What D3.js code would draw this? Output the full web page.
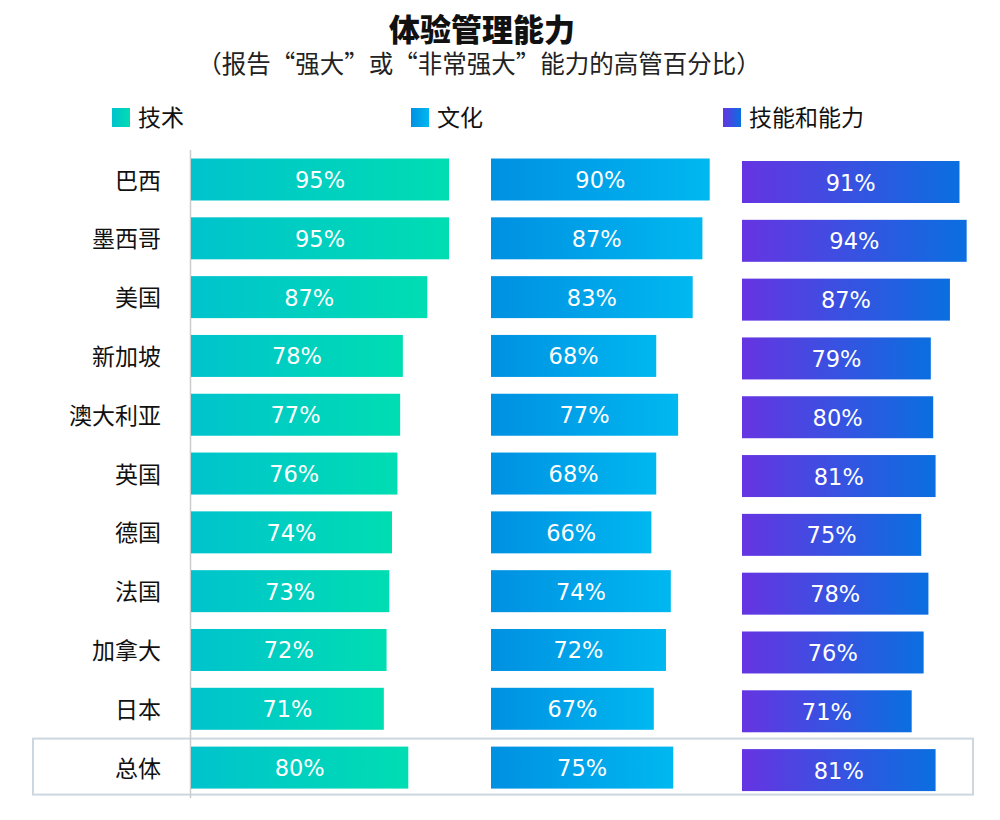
<!DOCTYPE html>
<html><head><meta charset="utf-8">
<script src="https://cdn.jsdelivr.net/npm/d3@7"></script>
<style>body{margin:0;background:#fff}svg{display:block}</style>
</head><body>
<script>
const categories = ["巴西","墨西哥","美国","新加坡","澳大利亚","英国","德国","法国","加拿大","日本","总体"];
const seriesNames = ["技术","文化","技能和能力"];
const tech    = [95,95,87,78,77,76,74,73,72,71,80];
const culture = [90,87,83,68,77,68,66,74,72,67,75];
const skills  = [91,94,87,79,80,81,75,78,76,71,81];
const title = "体验管理能力";
const subtitle = "（报告“强大”或“非常强大”能力的高管百分比）";

const W=1000,H=820;
const svg=d3.select("body").append("svg").attr("width",W).attr("height",H);
const defs=svg.append("defs");
const grads=[["g0","#00c3cd","#00ddb2"],["g1","#0090e2","#00b8f0"],["g2","#6634e2","#0a6fe0"]];
grads.forEach(([id,a,b])=>{
  const g=defs.append("linearGradient").attr("id",id).attr("x1","0%").attr("x2","100%").attr("y1","0%").attr("y2","0%");
  g.append("stop").attr("offset","0%").attr("stop-color",a);
  g.append("stop").attr("offset","100%").attr("stop-color",b);
});
const cjk="'Noto Sans CJK SC','Noto Sans',sans-serif";

svg.append("text").attr("x",482).attr("y",41).attr("text-anchor","middle")
  .attr("font-family",cjk).attr("font-weight","900").attr("font-size",31).attr("fill","#111").text(title);
svg.append("text").attr("x",479).attr("y",73).attr("text-anchor","middle")
  .attr("font-family",cjk).attr("font-size",24.5).attr("fill","#222").text(subtitle);

const y=d3.scaleBand().domain(categories).range([150.1,797]).paddingInner(0.286).paddingOuter(0.143);

// highlight box for 总体
svg.append("rect").attr("x",33).attr("y",y("总体")-8).attr("width",940).attr("height",y.bandwidth()+14)
  .attr("fill","none").attr("stroke","#cdd7df").attr("stroke-width",2);

// axis line
svg.append("line").attr("x1",190.5).attr("x2",190.5).attr("y1",150).attr("y2",798).attr("stroke","#cccccc").attr("stroke-width",1.5);

const cols=[
  {vals:tech, x:d3.scaleLinear().domain([0,100]).range([191,462.6]), dy:0, g:"g0", lx:112, name:seriesNames[0]},
  {vals:culture, x:d3.scaleLinear().domain([0,100]).range([491,734]), dy:0, g:"g1", lx:411, name:seriesNames[1]},
  {vals:skills, x:d3.scaleLinear().domain([0,100]).range([742,981]), dy:2.5, g:"g2", lx:723, name:seriesNames[2]},
];
cols.forEach(c=>{
  const gg=svg.append("g");
  gg.selectAll("rect").data(c.vals).join("rect")
    .attr("x",c.x(0)).attr("y",(d,i)=>y(categories[i])+c.dy)
    .attr("width",d=>c.x(d)-c.x(0)).attr("height",y.bandwidth())
    .attr("fill",`url(#${c.g})`);
  gg.selectAll("text").data(c.vals).join("text")
    .attr("x",d=>(c.x(0)+c.x(d))/2).attr("y",(d,i)=>y(categories[i])+c.dy+y.bandwidth()/2+8.5)
    .attr("text-anchor","middle").attr("font-family","'DejaVu Sans',Verdana,sans-serif").attr("font-size",22.5)
    .attr("fill","#fff").text(d=>d+"%");
  // legend
  svg.append("rect").attr("x",c.lx).attr("y",108).attr("width",18).attr("height",19).attr("fill",`url(#${c.g})`);
  svg.append("text").attr("x",c.lx+26).attr("y",126).attr("font-family",cjk).attr("font-size",23).attr("fill","#111").text(c.name);
});

svg.append("g").selectAll("text").data(categories).join("text")
  .attr("x",161).attr("y",d=>y(d)+y.bandwidth()/2+9).attr("text-anchor","end")
  .attr("font-family",cjk).attr("font-size",23).attr("fill","#111").text(d=>d);
</script>
</body></html>
